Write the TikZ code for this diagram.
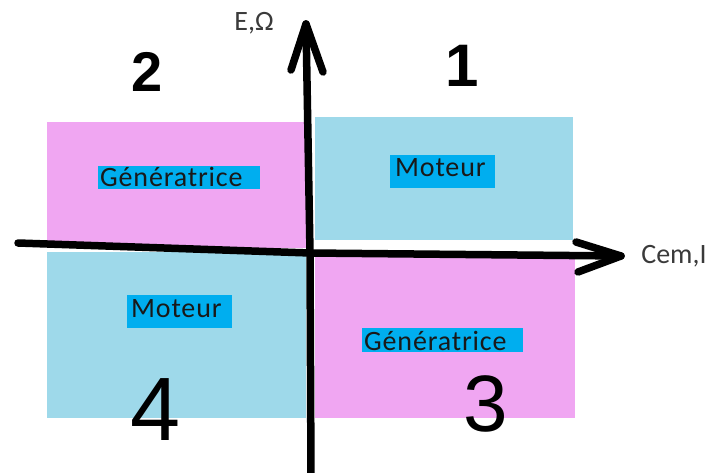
\documentclass[tikz,border=0pt]{standalone}
\usepackage{fontspec}
\setmainfont{Carlito}
\newfontfamily\lblfont[LetterSpace=3]{Carlito}
\newfontfamily\digfont{Liberation Sans}
\definecolor{pinkq}{HTML}{F0A6F2}
\definecolor{blueq}{HTML}{9ED9EA}
\definecolor{boxblue}{HTML}{00AEEF}
\definecolor{axislbl}{HTML}{3A3A3A}
\tikzset{
  axisline/.style={line width=7.5pt, line cap=round, line join=round, black},
  lbl/.style={font=\lblfont\fontsize{28}{28}\selectfont, text=black!90, inner sep=0pt},
  axlbl/.style={font=\fontsize{28}{28}\selectfont, text=axislbl, inner sep=0pt},
  digit/.style={text=black, inner sep=0pt}
}
\begin{document}
\begin{tikzpicture}[x=1pt,y=-1pt]
\useasboundingbox (0,0) rectangle (710,473);
\fill[white] (0,0) rectangle (710,473);
% quadrants
\fill[pinkq] (47,122) rectangle (306,248);
\fill[blueq] (315,117) rectangle (573,240);
\fill[blueq] (47,252) rectangle (306,418);
\fill[pinkq] (315,254) rectangle (575,418);
% text boxes
\fill[boxblue] (98,166) rectangle (260,189);
\node[lbl, anchor=base west] (g1) at (100,187) {Génératrice};
\fill[boxblue] (390,155) rectangle (495,188);
\node[lbl, anchor=base west] (m1) at (395,177) {Moteur};
\fill[boxblue] (127,295) rectangle (232,328);
\node[lbl, anchor=base west] (m2) at (131,317) {Moteur};
\fill[boxblue] (362,328) rectangle (523,352);
\node[lbl, anchor=base west] (g2) at (364,350) {Génératrice};
% axes
\coordinate (o) at (310,253);
\coordinate (xl) at (18,243);
\coordinate (xr) at (621,256);
\coordinate (xw1) at (576,242);
\coordinate (xw2) at (578,272);
\coordinate (yb) at (311,480);
\coordinate (yt) at (306,24);
\coordinate (yw1) at (291,70);
\coordinate (yw2) at (323,72);
\draw[axisline] (xl) -- (o) -- (xr);
\draw[axisline] (xw1) -- (xr) -- (xw2);
\draw[axisline] (yb) -- (o) -- (yt);
\draw[axisline] (yw1) -- (yt) -- (yw2);
% axis labels
\node[axlbl] (ylab) at (254,23) {E,Ω};
\node[axlbl] (xlab) at (674,256) {Cem,I};
% quadrant numbers
\node[digit, font=\digfont\bfseries\fontsize{60}{60}\selectfont] (n1) at (462,66) {1};
\node[digit, font=\digfont\bfseries\fontsize{56}{56}\selectfont] (n2) at (147,72) {2};
\node[digit, font=\digfont\fontsize{80}{80}\selectfont] (n3) at (486,404) {3};
\node[digit, font=\digfont\fontsize{90}{90}\selectfont] (n4) at (156,410) {4};
\end{tikzpicture}
\end{document}
